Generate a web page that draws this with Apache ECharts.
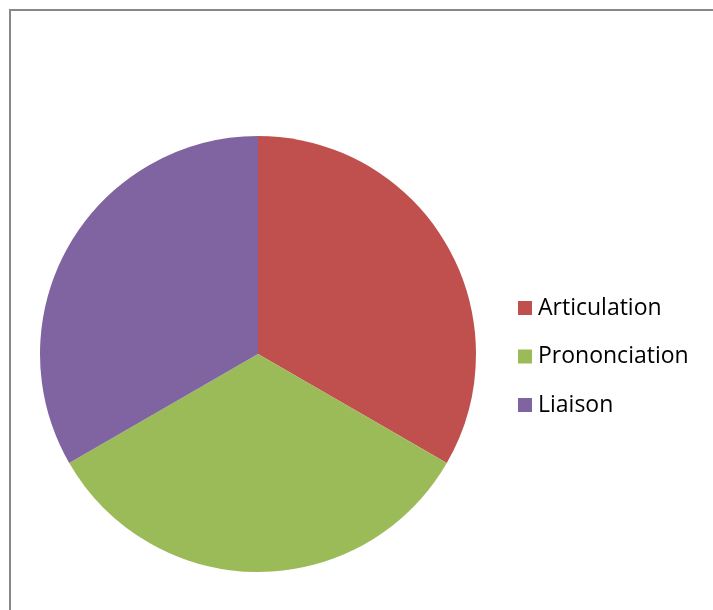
<!DOCTYPE html>
<html>
<head>
<meta charset="utf-8">
<script src="https://cdn.jsdelivr.net/npm/echarts@6/dist/echarts.min.js"></script>
<style>
html,body{margin:0;padding:0;background:#fff;}
#chart{width:713px;height:610px;}
</style>
</head>
<body>
<div id="chart"></div>
<script>
const categories = ["Articulation", "Prononciation", "Liaison"];
const values = [1, 1, 1];
const colors = ["#C0504D", "#9BBB59", "#8064A2"];

const chart = echarts.init(document.getElementById('chart'), null, {renderer: 'canvas'});
chart.setOption({
  animation: false,
  backgroundColor: '#ffffff',
  color: colors,
  graphic: [{
    type: 'rect',
    shape: {x: 10, y: 10, width: 760, height: 660},
    style: {fill: 'none', stroke: '#888888', lineWidth: 2},
    silent: true
  }],
  legend: {
    orient: 'vertical',
    left: 518,
    top: 296,
    padding: 0,
    icon: 'rect',
    itemWidth: 14,
    itemHeight: 14,
    itemGap: 24.5,
    selectedMode: false,
    textStyle: {fontFamily: 'Open Sans', fontSize: 23, color: '#000', lineHeight: 24, padding: [0,0,0,1]},
    data: categories
  },
  series: [{
    type: 'pie',
    center: [258, 354],
    radius: [0, 218],
    startAngle: 90,
    clockwise: true,
    label: {show: false},
    labelLine: {show: false},
    itemStyle: {borderWidth: 0},
    emphasis: {disabled: true},
    data: categories.map((c, i) => ({name: c, value: values[i]}))
  }]
});
</script>
</body>
</html>
